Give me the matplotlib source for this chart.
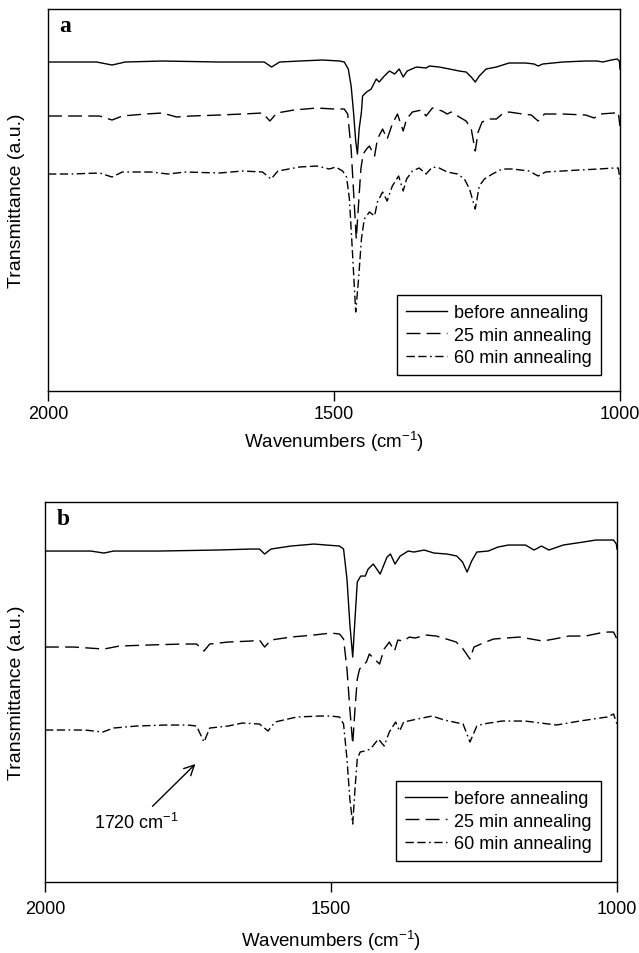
import matplotlib
matplotlib.use('Agg')
import matplotlib.pyplot as plt

plt.rcParams['font.family'] = ['Liberation Sans', 'DejaVu Sans']
plt.rcParams['mathtext.default'] = 'regular'

# ---------------- data (transmittance, arbitrary units) ----------------
labels = ['before annealing', '25 min annealing', '60 min annealing']
xticks = [2000, 1500, 1000]

# Panel a
a_before_wn = [2000, 1960, 1915, 1888, 1865, 1800, 1700, 1640, 1622, 1609, 1595, 1560, 1520, 1490,
               1482, 1475, 1470, 1466, 1462, 1459, 1456, 1452, 1450, 1443, 1435, 1426, 1421, 1412,
               1403, 1394, 1386, 1379, 1372, 1356, 1339, 1333, 1316, 1298, 1281, 1269, 1260, 1253,
               1246, 1234, 1216, 1194, 1165, 1150, 1143, 1135, 1100, 1060, 1040, 1030, 1015, 1005,
               1001, 1000]
a_before_t = [329, 329, 329, 326, 329, 330, 329, 329, 329, 324, 329, 330, 331, 330,
              329, 322, 305, 280, 250, 237, 262, 279, 295, 299, 302, 312, 309, 315,
              320, 317, 322, 314, 320, 324, 323, 325, 324, 322, 320, 319, 314, 309,
              315, 322, 324, 328, 328, 327, 325, 327, 329, 330, 330, 329, 331, 332,
              330, 322]

a_25_wn = [2000, 1960, 1910, 1888, 1870, 1830, 1800, 1775, 1750, 1700, 1660, 1625, 1612, 1600,
           1570, 1530, 1500, 1482, 1476, 1470, 1465, 1461, 1457, 1453, 1449, 1443, 1438, 1429,
           1424, 1415, 1407, 1398, 1389, 1379, 1373, 1363, 1347, 1339, 1328, 1311, 1302, 1295,
           1284, 1269, 1260, 1253, 1248, 1241, 1229, 1216, 1206, 1194, 1170, 1155, 1143, 1132,
           1100, 1060, 1045, 1035, 1010, 1003, 1000]
a_25_t = [275, 275, 275, 271, 275, 277, 278, 274, 275, 276, 277, 278, 270, 278,
          281, 283, 282, 282, 277, 242, 192, 152, 187, 222, 237, 242, 245, 235,
          252, 262, 252, 267, 277, 260, 272, 279, 281, 275, 283, 280, 277, 279,
          275, 270, 262, 240, 259, 269, 272, 272, 277, 279, 277, 276, 270, 277,
          277, 276, 273, 277, 278, 279, 265]

a_60_wn = [2000, 1960, 1910, 1888, 1870, 1820, 1790, 1760, 1700, 1660, 1625, 1610, 1598, 1560,
           1530, 1508, 1497, 1485, 1478, 1473, 1468, 1462, 1457, 1452, 1447, 1438, 1429, 1424,
           1415, 1407, 1398, 1387, 1379, 1373, 1363, 1351, 1339, 1328, 1316, 1302, 1284, 1272,
           1263, 1253, 1246, 1237, 1223, 1206, 1188, 1159, 1143, 1130, 1072, 1037, 1010, 1003,
           1000]
a_60_t = [217, 217, 218, 214, 219, 219, 217, 219, 218, 220, 219, 212, 220, 224,
          225, 222, 224, 220, 214, 192, 142, 79, 112, 152, 172, 179, 175, 189,
          199, 190, 205, 215, 200, 212, 220, 223, 217, 224, 223, 219, 217, 212,
          202, 182, 205, 212, 217, 222, 222, 220, 215, 219, 221, 222, 223, 223,
          212]

# Panel b
b_before_wn = [2000, 1960, 1920, 1897, 1880, 1800, 1700, 1640, 1625, 1616, 1605, 1570, 1530, 1508,
               1485, 1478, 1472, 1467, 1462, 1458, 1454, 1448, 1440, 1435, 1426, 1414, 1402, 1396,
               1388, 1379, 1365, 1355, 1337, 1320, 1297, 1280, 1270, 1262, 1254, 1245, 1225, 1208,
               1190, 1160, 1145, 1132, 1119, 1094, 1059, 1037, 1019, 1006, 1001, 1000]
b_before_t = [331, 331, 331, 329, 331, 331, 332, 333, 333, 328, 333, 336, 338, 337,
              336, 333, 303, 258, 225, 263, 300, 306, 306, 313, 318, 308, 325, 328,
              318, 326, 331, 330, 332, 329, 328, 326, 320, 310, 321, 330, 331, 335,
              337, 337, 332, 336, 332, 337, 340, 342, 342, 342, 338, 333]

b_25_wn = [2000, 1950, 1897, 1870, 1820, 1760, 1735, 1722, 1712, 1680, 1640, 1625, 1616, 1605,
           1570, 1530, 1500, 1485, 1478, 1472, 1467, 1462, 1458, 1454, 1450, 1445, 1438, 1433,
           1415, 1407, 1398, 1389, 1383, 1373, 1363, 1353, 1334, 1316, 1298, 1281, 1269, 1257,
           1250, 1238, 1216, 1194, 1170, 1150, 1130, 1110, 1084, 1055, 1030, 1016, 1006, 1000]
b_25_t = [235, 235, 233, 236, 237, 238, 238, 231, 238, 240, 241, 242, 235, 242,
          245, 247, 249, 248, 243, 213, 173, 138, 173, 203, 213, 216, 220, 228,
          218, 233, 240, 231, 242, 241, 245, 244, 247, 246, 243, 240, 233, 223,
          235, 238, 243, 244, 245, 243, 241, 243, 246, 246, 249, 250, 250, 243]

b_60_wn = [2000, 1960, 1930, 1899, 1880, 1840, 1790, 1750, 1735, 1722, 1712, 1680, 1655, 1625,
           1610, 1598, 1560, 1520, 1500, 1485, 1478, 1472, 1467, 1462, 1458, 1454, 1449, 1441,
           1431, 1417, 1407, 1398, 1387, 1380, 1373, 1349, 1323, 1302, 1269, 1257, 1245, 1234,
           1201, 1161, 1133, 1106, 1065, 1030, 1017, 1006, 1000]
b_60_t = [152, 152, 152, 150, 154, 156, 157, 157, 156, 140, 154, 156, 159, 158,
          151, 160, 165, 166, 166, 165, 158, 123, 83, 58, 93, 123, 130, 131,
          133, 143, 136, 150, 160, 151, 160, 163, 166, 162, 158, 140, 156, 158,
          161, 161, 159, 157, 161, 164, 165, 168, 158]

# ---------------- figure ----------------
fig = plt.figure(figsize=(6.39, 9.54), dpi=100)
axa = fig.add_axes([0.0751, 0.5891, 0.8951, 0.4004])
axb = fig.add_axes([0.0704, 0.0744, 0.8951, 0.3983])

styles = ['-', (0, (10, 4.5)), (0, (6, 2.5, 6, 2.5, 1.2, 2.5))]

def draw(ax, series, ylim, letter, leg_anchor, lab_y, tick_pad):
    for (wn, t), ls, lab in zip(series, styles, labels):
        ax.plot(wn, t, color='black', lw=1.0, ls=ls, label=lab)
    ax.set_xlim(2000, 1000)
    ax.set_ylim(*ylim)
    ax.set_xticks(xticks)
    ax.set_xticklabels([str(v) for v in xticks])
    ax.set_yticks([])
    ax.tick_params(axis='x', direction='out', length=7, width=1.0,
                   labelsize=13, pad=tick_pad)
    for s in ax.spines.values():
        s.set_linewidth(1.0)
        s.set_color('black')
    ax.set_xlabel('Wavenumbers (cm$^{-1}$)', fontsize=13.5)
    ax.xaxis.set_label_coords(0.5, lab_y)
    ax.set_ylabel('Transmittance (a.u.)', fontsize=14)
    ax.text(0.02, 0.985, letter, transform=ax.transAxes, ha='left', va='top',
            fontsize=17, fontweight='bold', family='Liberation Serif')
    leg = ax.legend(loc='lower right', bbox_to_anchor=leg_anchor, borderaxespad=0,
                    frameon=True, fancybox=False, edgecolor='black', framealpha=1,
                    fontsize=13, handlelength=2.3, handletextpad=0.4,
                    labelspacing=0.3, borderpad=0.5)
    leg.get_frame().set_linewidth(1.0)

draw(axa, [(a_before_wn, a_before_t), (a_25_wn, a_25_t), (a_60_wn, a_60_t)],
     (0, 382), 'a', (0.967, 0.042), -0.10, 3)
axa.yaxis.set_label_coords(-0.04, 0.5)

draw(axb, [(b_before_wn, b_before_t), (b_25_wn, b_25_t), (b_60_wn, b_60_t)],
     (0, 380), 'b', (0.972, 0.055), -0.12, 6)
axb.yaxis.set_label_coords(-0.035, 0.5)

axb.annotate('1720 cm$^{-1}$', xy=(1737, 118), xytext=(1840, 60),
             ha='center', va='center', fontsize=13,
             arrowprops=dict(arrowstyle='->', lw=1.0, color='black',
                             mutation_scale=18, shrinkA=3, shrinkB=0))

fig.savefig('out.png', dpi=100)
